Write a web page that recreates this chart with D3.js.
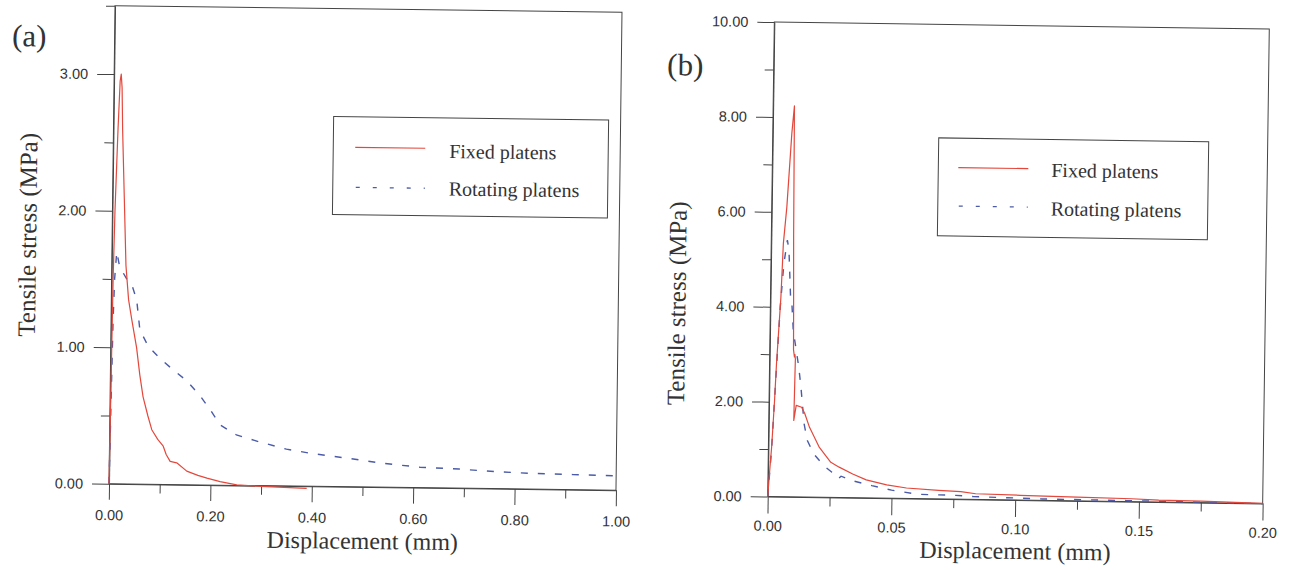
<!DOCTYPE html>
<html>
<head>
<meta charset="utf-8">
<script src="https://cdn.jsdelivr.net/npm/d3@7/dist/d3.min.js"></script>
<style>
	body { margin: 0; background: #fff; }
	svg { display: block; }
	.tick text { font-family: 'Liberation Sans', Arial, sans-serif; font-size: 14.5px; fill: #333; }
	.axis path, .axis line { stroke: #444; }
	.serif { font-family: 'Liberation Serif', 'Times New Roman', serif; fill: #333; }
</style>
</head>
<body>
<svg id="chart" width="1295" height="570"></svg>
<script>
// panel (a): displacement (mm), tensile stress (MPa)
const fixedA = [
	[0, 0], [0.001, 0.5], [0.002, 1.0], [0.003, 1.5], [0.005, 2.0], [0.009, 2.6], [0.012, 2.95],
	[0.014, 3.0], [0.016, 2.9], [0.018, 2.6], [0.023, 2.1], [0.028, 1.6], [0.034, 1.35], [0.041, 1.2],
	[0.051, 1.0], [0.058, 0.8], [0.065, 0.64], [0.075, 0.5], [0.083, 0.4], [0.095, 0.33], [0.106, 0.28],
	[0.112, 0.22], [0.12, 0.17], [0.133, 0.16], [0.153, 0.1], [0.175, 0.07], [0.193, 0.05],
	[0.219, 0.026], [0.252, 0.004], [0.3, -0.005], [0.39, -0.015]
];
const rotatingA = [
	[0, 0], [0.002, 0.6], [0.004, 1.2], [0.006, 1.5], [0.0095, 1.7], [0.015, 1.6], [0.022, 1.55],
	[0.03, 1.5], [0.04, 1.46], [0.05, 1.35], [0.057, 1.13], [0.074, 1.01], [0.101, 0.91], [0.124, 0.84],
	[0.151, 0.76], [0.178, 0.65], [0.198, 0.55], [0.218, 0.44], [0.25, 0.37], [0.296, 0.32],
	[0.349, 0.27], [0.4, 0.24], [0.468, 0.21], [0.54, 0.175], [0.613, 0.15], [0.69, 0.14],
	[0.764, 0.124], [0.836, 0.115], [0.915, 0.11], [1.0, 0.105]
];

// panel (b)
const fixedB = [
	[0, 0], [0.0006, 0.5], [0.0013, 1.04], [0.0022, 2.0], [0.0028, 2.8], [0.0036, 3.6], [0.0042, 4.2],
	[0.0049, 5.34], [0.0061, 6.11], [0.0077, 7.66], [0.0086, 8.24], [0.009, 5.5], [0.0094, 4.0],
	[0.0096, 3.1], [0.01, 2.95], [0.0102, 3.0], [0.0104, 2.9], [0.0101, 1.61], [0.011, 1.93],
	[0.0132, 1.89], [0.0145, 1.76], [0.0165, 1.47], [0.0206, 1.05], [0.0253, 0.74], [0.0287, 0.64],
	[0.0342, 0.5], [0.0397, 0.38], [0.048, 0.28], [0.056, 0.22], [0.069, 0.18], [0.078, 0.16],
	[0.084, 0.12], [0.102, 0.1], [0.125, 0.08], [0.147, 0.06], [0.158, 0.04], [0.175, 0.03], [0.2, 0.0]
];
const rotatingB = [
	[0, 0], [0.0013, 1.0], [0.0028, 2.7], [0.004, 4.0], [0.0052, 4.9], [0.0065, 5.41], [0.0072, 5.2],
	[0.0081, 4.21], [0.0086, 4.14], [0.0094, 3.5], [0.0107, 3.09], [0.0118, 2.74], [0.0128, 2.32],
	[0.0143, 1.54], [0.0157, 1.19], [0.0184, 0.91], [0.0224, 0.67], [0.0258, 0.53], [0.0275, 0.47],
	[0.0285, 0.4], [0.0295, 0.45], [0.031, 0.42], [0.034, 0.36], [0.042, 0.26], [0.05, 0.17],
	[0.061, 0.09], [0.076, 0.08], [0.083, 0.06], [0.111, 0.03], [0.145, 0.02], [0.172, 0.01], [0.2, -0.005]
];

const xTicksA = [0, 0.2, 0.4, 0.6, 0.8, 1.0];
const xMinorA = [0.1, 0.3, 0.5, 0.7, 0.9];
const yTicksA = [0, 1, 2, 3];
const yMinorA = [0.5, 1.5, 2.5, 3.5];
const xTicksB = [0, 0.05, 0.1, 0.15, 0.2];
const xMinorB = [0.025, 0.075, 0.125, 0.175];
const yTicksB = [0, 2, 4, 6, 8, 10];
const yMinorB = [1, 3, 5, 7, 9];

const seriesNames = ['Fixed platens', 'Rotating platens'];

const RED = '#e4483c';
const BLUE = '#4b5ba8';

const svg = d3.select('#chart');

// the scan is tilted a little, so each panel is turned about its centre
const panels = [
	{
		label: '(a)', fixed: fixedA, rotating: rotatingA,
		xDomain: [0, 1], yDomain: [0, 3.5],
		xTicks: xTicksA, xMinor: xMinorA, yTicks: yTicksA, yMinor: yMinorA,
		left: 112, top: 9, w: 507, h: 478, angle: 0.72,
		xPad: 10, majorX: 16, majorY: 17,
		legend: { x: 332, y: 117, w: 275, h: 98, lineX: 354, textX: 448, rows: [147.5, 187.5], base: [157, 194.5] },
		yTitle: [36, 239], xTitle: [366, 549], tag: [9.5, 50.5]
	},
	{
		label: '(b)', fixed: fixedB, rotating: rotatingB,
		xDomain: [0, 0.2], yDomain: [0, 10],
		xTicks: xTicksB, xMinor: xMinorB, yTicks: yTicksB, yMinor: yMinorB,
		left: 771, top: 25.5, w: 495, h: 474.5, angle: 0.8,
		xPad: 7, majorX: 17, majorY: 17,
		legend: { x: 937, y: 139, w: 270, h: 98, lineX: 957, textX: 1050, rows: [168.5, 207], base: [176.5, 215] },
		yTitle: [686, 308], xTitle: [1019, 559], tag: [664.5, 80]
	}
];

function drawPanel(p) {
	const cx = p.left + p.w / 2;
	const cy = p.top + p.h / 2;
	const g = svg.append('g').attr('transform', `rotate(${p.angle},${cx},${cy})`);

	const x = d3.scaleLinear().domain(p.xDomain).range([p.left, p.left + p.w]);
	const y = d3.scaleLinear().domain(p.yDomain).range([p.top + p.h, p.top]);
	const fmt = d3.format('.2f');

	// frame
	g.append('rect')
		.attr('x', p.left).attr('y', p.top)
		.attr('width', p.w).attr('height', p.h)
		.attr('fill', 'none').attr('stroke', '#444').attr('stroke-width', 1);

	// axes, major then minor
	g.append('g').attr('class', 'axis')
		.attr('transform', `translate(0,${p.top + p.h})`)
		.call(d3.axisBottom(x).tickValues(p.xTicks).tickFormat(fmt).tickSize(p.majorX).tickSizeOuter(0).tickPadding(p.xPad));
	g.append('g').attr('class', 'axis')
		.attr('transform', `translate(0,${p.top + p.h})`)
		.call(d3.axisBottom(x).tickValues(p.xMinor).tickFormat('').tickSize(9).tickSizeOuter(0))
		.select('.domain').remove();
	g.append('g').attr('class', 'axis')
		.attr('transform', `translate(${p.left},0)`)
		.call(d3.axisLeft(y).tickValues(p.yTicks).tickFormat(fmt).tickSize(p.majorY).tickSizeOuter(0).tickPadding(9));
	g.append('g').attr('class', 'axis')
		.attr('transform', `translate(${p.left},0)`)
		.call(d3.axisLeft(y).tickValues(p.yMinor).tickFormat('').tickSize(9).tickSizeOuter(0))
		.select('.domain').remove();

	const line = d3.line().x(d => x(d[0])).y(d => y(d[1]));

	g.append('path').datum(p.rotating)
		.attr('d', line)
		.attr('fill', 'none').attr('stroke', BLUE).attr('stroke-width', 1.4)
		.attr('stroke-dasharray', '7,10');
	g.append('path').datum(p.fixed)
		.attr('d', line)
		.attr('fill', 'none').attr('stroke', RED).attr('stroke-width', 1.2)
		.attr('stroke-linejoin', 'round');

	// legend
	const L = p.legend;
	g.append('rect')
		.attr('x', L.x).attr('y', L.y).attr('width', L.w).attr('height', L.h)
		.attr('fill', '#fff').attr('stroke', '#444').attr('stroke-width', 1);
	g.append('line')
		.attr('x1', L.lineX).attr('x2', L.lineX + 70)
		.attr('y1', L.rows[0]).attr('y2', L.rows[0])
		.attr('stroke', RED).attr('stroke-width', 1.2);
	g.append('line')
		.attr('x1', L.lineX + 1).attr('x2', L.lineX + 70)
		.attr('y1', L.rows[1]).attr('y2', L.rows[1])
		.attr('stroke', BLUE).attr('stroke-width', 1.3)
		.attr('stroke-dasharray', '4,13');
	seriesNames.forEach((name, i) => {
		g.append('text').attr('class', 'serif')
			.attr('x', L.textX).attr('y', L.base[i])
			.attr('font-size', 20)
			.text(name);
	});

	// titles
	g.append('text').attr('class', 'serif')
		.attr('transform', `translate(${p.yTitle[0]},${p.yTitle[1]}) rotate(-90)`)
		.attr('text-anchor', 'middle')
		.attr('font-size', 25)
		.text('Tensile stress (MPa)');
	g.append('text').attr('class', 'serif')
		.attr('x', p.xTitle[0]).attr('y', p.xTitle[1])
		.attr('text-anchor', 'middle')
		.attr('font-size', 24)
		.text('Displacement (mm)');
	g.append('text').attr('class', 'serif')
		.attr('x', p.tag[0]).attr('y', p.tag[1])
		.attr('font-size', 31)
		.text(p.label);
}

panels.forEach(drawPanel);
</script>
</body>
</html>
